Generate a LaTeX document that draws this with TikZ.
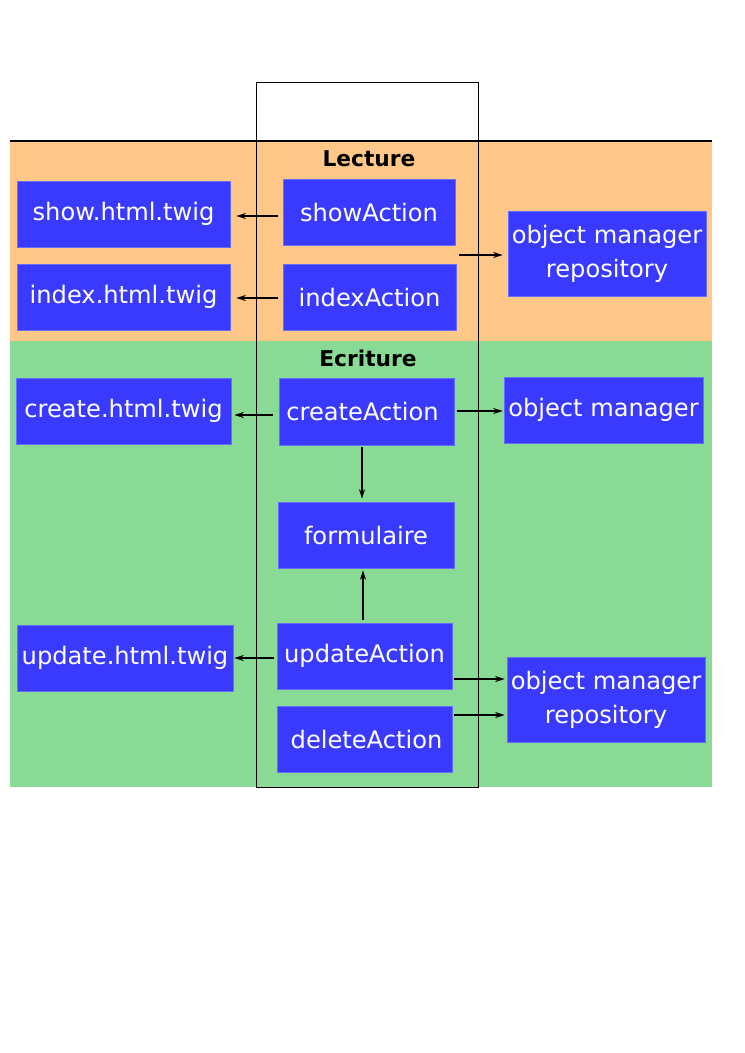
\documentclass[tikz,border=0pt]{standalone}
\usepackage{fontspec}
\setmainfont{DejaVu Sans}
\usetikzlibrary{arrows.meta}
\definecolor{boxblue}{RGB}{58,58,255}
\definecolor{boxedge}{RGB}{100,110,255}
\definecolor{lectbg}{RGB}{255,200,136}
\definecolor{ecrbg}{RGB}{137,218,149}
\tikzset{
  box/.style={fill=boxblue, draw=boxedge, line width=0.6pt, text=white, inner sep=0pt,
    align=center, font=\fontsize{18.1pt}{25.5pt}\selectfont},
  bandtitle/.style={font=\fontsize{16.3pt}{19pt}\selectfont\bfseries, text=black, inner sep=0pt},
  arr/.style={line width=0.95pt, -{Stealth[length=7pt,width=4.5pt,inset=2.2pt]}}
}
\begin{document}
\begin{tikzpicture}[x=0.75pt,y=-0.75pt]
\useasboundingbox (0,0) rectangle (745,1053);
% bands
\fill[lectbg] (10,141) rectangle (712,341);
\fill[ecrbg] (10,341) rectangle (712,787);
\draw[line width=1pt] (10,141) -- (712,141);
\draw[line width=0.5pt] (256,82) rectangle (478,787);
\node[bandtitle] (lect) at (369,159) {Lecture};
\node[bandtitle] (ecr) at (368,358) {Ecriture};
% boxes
\node[box, minimum width=159.75pt, minimum height=49.5pt] (st) at (123.5,214) {show.html.twig};
\node[box, minimum width=159.75pt, minimum height=49.5pt] (it) at (123.5,297) {index.html.twig};
\node[box, minimum width=129pt, minimum height=49.5pt] (sa) at (369,212) {showAction};
\node[box, minimum width=129.75pt, minimum height=49.5pt] (ia) at (369.5,297) {indexAction};
\node[box, minimum width=148.5pt, minimum height=63.75pt] (omr1) at (607,253.5) {object manager\\repository};
\node[box, minimum width=161.25pt, minimum height=49.5pt] (ct) at (123.5,411) {create.html.twig};
\node[box, minimum width=131.25pt, minimum height=50.25pt] (ca) at (366.5,411.5) {createAction\hspace{6pt}};
\node[box, minimum width=149.25pt, minimum height=49.5pt] (om) at (603.5,410) {object manager};
\node[box, minimum width=132pt, minimum height=49.5pt] (fo) at (366,535) {formulaire};
\node[box, minimum width=162pt, minimum height=49.5pt] (ut) at (125,658) {update.html.twig};
\node[box, minimum width=131.25pt, minimum height=49.5pt] (ua) at (364.5,656) {updateAction};
\node[box, minimum width=131.25pt, minimum height=49.5pt] (da) at (364.5,739) {\hspace{3pt}deleteAction};
\node[box, minimum width=148.5pt, minimum height=63.75pt] (omr2) at (606,699.5) {object manager\\repository\hspace{9pt}};
% connectors
\draw[arr, shorten <=3.75pt, shorten >=4.5pt] (sa.west |- 0,216) -- (st.east |- 0,216);
\draw[arr, shorten <=3.75pt, shorten >=4.5pt] (ia.west |- 0,298) -- (it.east |- 0,298);
\coordinate (lr) at (459,255);
\draw[arr, shorten >=3.75pt] (lr) -- (omr1.west |- lr);
\draw[arr, shorten <=4.5pt, shorten >=2.25pt] (ca.west |- 0,415) -- (ct.east |- 0,415);
\draw[arr, shorten <=2.25pt, shorten >=0.75pt] (ca.east |- 0,411) -- (om.west |- 0,411);
\draw[arr, shorten <=1.5pt, shorten >=2.25pt] (ca.south -| 362,0) -- (fo.north -| 362,0);
\draw[arr, shorten <=2.25pt, shorten >=1.5pt] (ua.north -| 363,0) -- (fo.south -| 363,0);
\draw[arr, shorten <=2.25pt, shorten >=0.75pt] (ua.west |- 0,658) -- (ut.east |- 0,658);
\draw[arr, shorten <=1.5pt, shorten >=1.5pt] (ua.east |- 0,679) -- (omr2.west |- 0,679);
\draw[arr, shorten <=1.5pt, shorten >=1.5pt] (da.east |- 0,715) -- (omr2.west |- 0,715);
\end{tikzpicture}
\end{document}
